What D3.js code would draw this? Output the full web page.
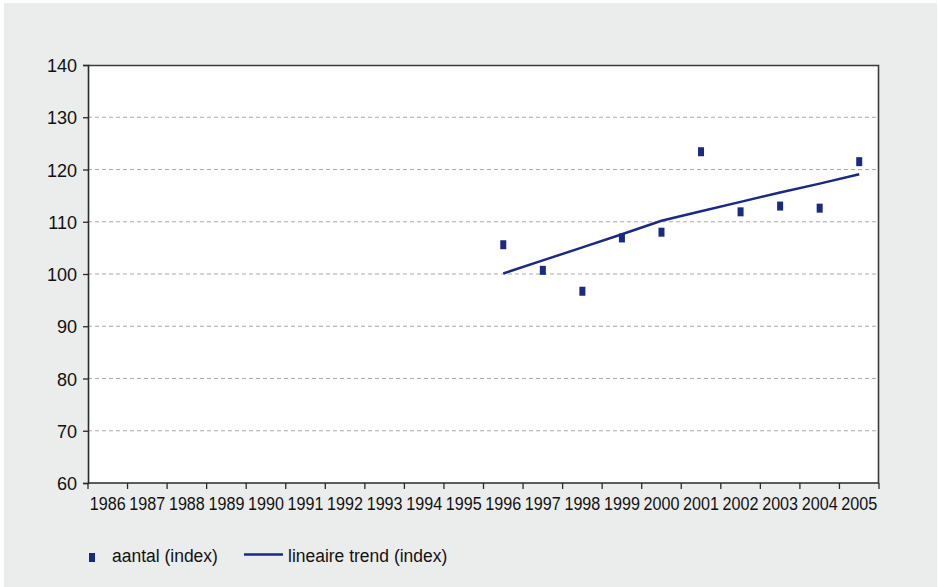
<!DOCTYPE html>
<html>
<head>
<meta charset="utf-8">
<script src="https://cdn.jsdelivr.net/npm/d3@7"></script>
<style>
  html, body { margin: 0; padding: 0; background: #ffffff; }
  svg { display: block; }
  text { font-family: "Liberation Sans", Arial, sans-serif; fill: #111111; }
</style>
</head>
<body>
<svg id="chart" width="938" height="587"></svg>
<script>
const years = ["1986","1987","1988","1989","1990","1991","1992","1993","1994","1995",
               "1996","1997","1998","1999","2000","2001","2002","2003","2004","2005"];
const aantalYears = ["1996","1997","1998","1999","2000","2001","2002","2003","2004","2005"];
const aantalValues = [105.6, 100.7, 96.7, 106.9, 108.0, 123.4, 111.9, 113.0, 112.6, 121.5];
const trendYears = ["1996","1997","1998","1999","2000","2001","2002","2003","2004","2005"];
const trendValues = [100.1, 102.6, 105.1, 107.6, 110.2, 112.0, 113.8, 115.6, 117.3, 119.1];
const yTicks = [60, 70, 80, 90, 100, 110, 120, 130, 140];
const legendLabels = ["aantal (index)", "lineaire trend (index)"];

const navy = "#1a2a82";
const svg = d3.select("#chart");

// background panel
svg.append("rect").attr("x", 4).attr("y", 3).attr("width", 933).attr("height", 584).attr("fill", "#ebecec");

const mLeft = 88, mRight = 879, mTop = 65, mBottom = 483;
const x = d3.scaleBand().domain(years).range([mLeft, mRight]).padding(0);
const y = d3.scaleLinear().domain([60, 140]).range([mBottom, mTop]);

// plot area
svg.append("rect").attr("x", mLeft).attr("y", mTop).attr("width", mRight - mLeft).attr("height", mBottom - mTop).attr("fill", "#ffffff");

// gridlines
svg.append("g").selectAll("line").data(yTicks.filter(d => d > 60 && d < 140)).join("line")
  .attr("x1", mLeft).attr("x2", mRight)
  .attr("y1", d => y(d)).attr("y2", d => y(d))
  .attr("stroke", "#ababab").attr("stroke-width", 1).attr("stroke-dasharray", "4,3");

// frame top/right
svg.append("path")
  .attr("d", `M${mLeft},${mTop + 0.5}H${mRight - 0.5}V${mBottom}`)
  .attr("fill", "none").attr("stroke", "#3a3a3a").attr("stroke-width", 1.6);

// y axis
const yAxis = d3.axisLeft(y).tickValues(yTicks).tickSize(5).tickPadding(6).tickFormat(d3.format("d"));
const gy = svg.append("g").attr("transform", `translate(${mLeft},0)`).call(yAxis);
gy.select(".domain").attr("stroke", "#2a2a2a").attr("stroke-width", 1.6);
gy.selectAll(".tick line").attr("stroke", "#2a2a2a").attr("stroke-width", 1.3);
gy.selectAll(".tick text").attr("font-size", 19).attr("fill", "#111111")
  .attr("font-family", "'Liberation Sans', Arial, sans-serif").attr("dy", "0.35em")
  .attr("transform", "scale(0.95,1)").attr("x", -11 / 0.95);

// x axis: ticks at band boundaries
const boundaries = years.map(d => x(d)).concat([mRight]);
const gx = svg.append("g");
gx.append("line").attr("x1", mLeft).attr("x2", mRight).attr("y1", mBottom).attr("y2", mBottom)
  .attr("stroke", "#2a2a2a").attr("stroke-width", 1.6);
gx.selectAll("line.tk").data(boundaries).join("line").attr("class", "tk")
  .attr("x1", d => d).attr("x2", d => d).attr("y1", mBottom).attr("y2", mBottom + 6)
  .attr("stroke", "#2a2a2a").attr("stroke-width", 1.3);
gx.selectAll("text").data(years).join("text")
  .attr("transform", d => `translate(${x(d) + x.bandwidth() / 2},510) scale(0.85,1)`)
  .attr("text-anchor", "middle").attr("font-size", 19).text(d => d);

// trend line
const line = d3.line().x((d, i) => x(trendYears[i]) + x.bandwidth() / 2).y(d => y(d));
svg.append("path").datum(trendValues).attr("d", line)
  .attr("fill", "none").attr("stroke", navy).attr("stroke-width", 2.5);

// markers
svg.append("g").selectAll("rect").data(aantalValues).join("rect")
  .attr("x", (d, i) => x(aantalYears[i]) + x.bandwidth() / 2 - 3)
  .attr("y", d => y(d) - 4.5)
  .attr("width", 6).attr("height", 9).attr("fill", navy);

// legend
const lg = svg.append("g");
lg.append("rect").attr("x", 89).attr("y", 553).attr("width", 6).attr("height", 9).attr("fill", navy);
lg.append("text").attr("transform", "translate(112,562) scale(0.92,1)").attr("font-size", 19).text(legendLabels[0]);
lg.append("line").attr("x1", 244).attr("x2", 283).attr("y1", 554.5).attr("y2", 554.5)
  .attr("stroke", navy).attr("stroke-width", 2.5);
lg.append("text").attr("transform", "translate(288,562) scale(0.92,1)").attr("font-size", 19).text(legendLabels[1]);
</script>
</body>
</html>
